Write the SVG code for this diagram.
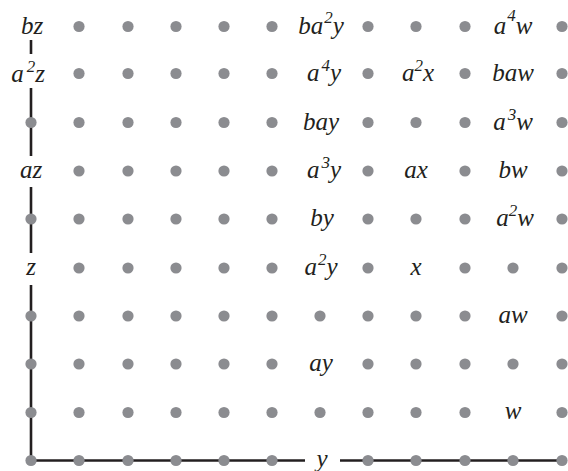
<svg xmlns="http://www.w3.org/2000/svg" xmlns:xlink="http://www.w3.org/1999/xlink" width="568" height="471" viewBox="0 0 568 471">
<style>
.lb{font-family:"Liberation Serif","Times New Roman",serif;font-style:italic;font-size:25px;fill:#231f20;text-anchor:middle}
.sp{font-size:17px}
.ax{stroke:#231f20;stroke-width:2.6;fill:none}
</style>
<defs>
<circle id="d" r="5.6" fill="#8b8c90"/>
</defs>
<rect width="568" height="471" fill="#fff"/>
<g id="connectors">
<line class="ax" x1="31" y1="40" x2="31" y2="54"/>
<line class="ax" x1="31" y1="88" x2="31" y2="156"/>
<line class="ax" x1="31" y1="187" x2="31" y2="253"/>
<line class="ax" x1="31" y1="285" x2="31" y2="460.5"/>
<line class="ax" x1="29.7" y1="460.5" x2="305" y2="460.5"/>
<line class="ax" x1="340" y1="460.5" x2="562" y2="460.5"/>
</g>
<g id="dots">
<use href="#d" x="79" y="26.5"/><use href="#d" x="128" y="26.5"/><use href="#d" x="176" y="26.5"/><use href="#d" x="224" y="26.5"/><use href="#d" x="272" y="26.5"/><use href="#d" x="368" y="26.5"/><use href="#d" x="416" y="26.5"/><use href="#d" x="465" y="26.5"/><use href="#d" x="562" y="26.5"/>
<use href="#d" x="79" y="73.5"/><use href="#d" x="128" y="73.5"/><use href="#d" x="176" y="73.5"/><use href="#d" x="224" y="73.5"/><use href="#d" x="272" y="73.5"/><use href="#d" x="368" y="73.5"/><use href="#d" x="465" y="73.5"/><use href="#d" x="562" y="73.5"/>
<use href="#d" x="31" y="122.5"/><use href="#d" x="79" y="122.5"/><use href="#d" x="128" y="122.5"/><use href="#d" x="176" y="122.5"/><use href="#d" x="224" y="122.5"/><use href="#d" x="272" y="122.5"/><use href="#d" x="368" y="122.5"/><use href="#d" x="416" y="122.5"/><use href="#d" x="465" y="122.5"/><use href="#d" x="562" y="122.5"/>
<use href="#d" x="79" y="171"/><use href="#d" x="128" y="171"/><use href="#d" x="176" y="171"/><use href="#d" x="224" y="171"/><use href="#d" x="272" y="171"/><use href="#d" x="368" y="171"/><use href="#d" x="465" y="171"/><use href="#d" x="562" y="171"/>
<use href="#d" x="31" y="219"/><use href="#d" x="79" y="219"/><use href="#d" x="128" y="219"/><use href="#d" x="176" y="219"/><use href="#d" x="224" y="219"/><use href="#d" x="272" y="219"/><use href="#d" x="368" y="219"/><use href="#d" x="416" y="219"/><use href="#d" x="465" y="219"/><use href="#d" x="562" y="219"/>
<use href="#d" x="79" y="268"/><use href="#d" x="128" y="268"/><use href="#d" x="176" y="268"/><use href="#d" x="224" y="268"/><use href="#d" x="272" y="268"/><use href="#d" x="368" y="268"/><use href="#d" x="465" y="268"/><use href="#d" x="513" y="268"/><use href="#d" x="562" y="268"/>
<use href="#d" x="31" y="316"/><use href="#d" x="79" y="316"/><use href="#d" x="128" y="316"/><use href="#d" x="176" y="316"/><use href="#d" x="224" y="316"/><use href="#d" x="272" y="316"/><use href="#d" x="320" y="316"/><use href="#d" x="368" y="316"/><use href="#d" x="416" y="316"/><use href="#d" x="465" y="316"/><use href="#d" x="562" y="316"/>
<use href="#d" x="31" y="364"/><use href="#d" x="79" y="364"/><use href="#d" x="128" y="364"/><use href="#d" x="176" y="364"/><use href="#d" x="224" y="364"/><use href="#d" x="272" y="364"/><use href="#d" x="368" y="364"/><use href="#d" x="416" y="364"/><use href="#d" x="465" y="364"/><use href="#d" x="513" y="364"/><use href="#d" x="562" y="364"/>
<use href="#d" x="31" y="412.5"/><use href="#d" x="79" y="412.5"/><use href="#d" x="128" y="412.5"/><use href="#d" x="176" y="412.5"/><use href="#d" x="224" y="412.5"/><use href="#d" x="272" y="412.5"/><use href="#d" x="320" y="412.5"/><use href="#d" x="368" y="412.5"/><use href="#d" x="416" y="412.5"/><use href="#d" x="465" y="412.5"/><use href="#d" x="562" y="412.5"/>
<use href="#d" x="31" y="460.5"/><use href="#d" x="79" y="460.5"/><use href="#d" x="128" y="460.5"/><use href="#d" x="176" y="460.5"/><use href="#d" x="224" y="460.5"/><use href="#d" x="272" y="460.5"/><use href="#d" x="368" y="460.5"/><use href="#d" x="416" y="460.5"/><use href="#d" x="465" y="460.5"/><use href="#d" x="513" y="460.5"/><use href="#d" x="562" y="460.5"/>
</g>
<g id="labels">
<g id="n-bz"><text class="lb" x="32" y="34">bz</text></g>
<g id="n-ba2y"><text class="lb" x="321" y="34">ba<tspan class="sp" dy="-11" dx="1">2</tspan><tspan dy="11">y</tspan></text></g>
<g id="n-a4w"><text class="lb" x="513" y="34">a<tspan class="sp" dy="-13" dx="1">4</tspan><tspan dy="13">w</tspan></text></g>
<g id="n-a2z"><text class="lb" x="28" y="82">a<tspan class="sp" dy="-10" dx="3">2</tspan><tspan dy="10">z</tspan></text></g>
<g id="n-a4y"><text class="lb" x="324" y="81">a<tspan class="sp" dy="-10" dx="2">4</tspan><tspan dy="10">y</tspan></text></g>
<g id="n-a2x"><text class="lb" x="418" y="81">a<tspan class="sp" dy="-10">2</tspan><tspan dy="10">x</tspan></text></g>
<g id="n-baw"><text class="lb" x="513" y="81">baw</text></g>
<g id="n-bay"><text class="lb" x="321" y="129.5">bay</text></g>
<g id="n-a3w"><text class="lb" x="513" y="129.5">a<tspan class="sp" dy="-10" dx="2">3</tspan><tspan dy="10">w</tspan></text></g>
<g id="n-az"><text class="lb" x="31" y="178">az</text></g>
<g id="n-a3y"><text class="lb" x="324" y="178">a<tspan class="sp" dy="-10" dx="2">3</tspan><tspan dy="10">y</tspan></text></g>
<g id="n-ax"><text class="lb" x="416" y="178">ax</text></g>
<g id="n-bw"><text class="lb" x="513" y="178">bw</text></g>
<g id="n-by"><text class="lb" x="322" y="226">by</text></g>
<g id="n-a2w"><text class="lb" x="515" y="226">a<tspan class="sp" dy="-10">2</tspan><tspan dy="10">w</tspan></text></g>
<g id="n-z"><text class="lb" x="31" y="275">z</text></g>
<g id="n-a2y"><text class="lb" x="321" y="275">a<tspan class="sp" dy="-10" dx="1">2</tspan><tspan dy="10">y</tspan></text></g>
<g id="n-x"><text class="lb" x="416" y="275">x</text></g>
<g id="n-aw"><text class="lb" x="513" y="323">aw</text></g>
<g id="n-ay"><text class="lb" x="321" y="371">ay</text></g>
<g id="n-w"><text class="lb" x="513" y="419">w</text></g>
<g id="n-y"><text class="lb" x="322" y="467">y</text></g>
</g>
</svg>
